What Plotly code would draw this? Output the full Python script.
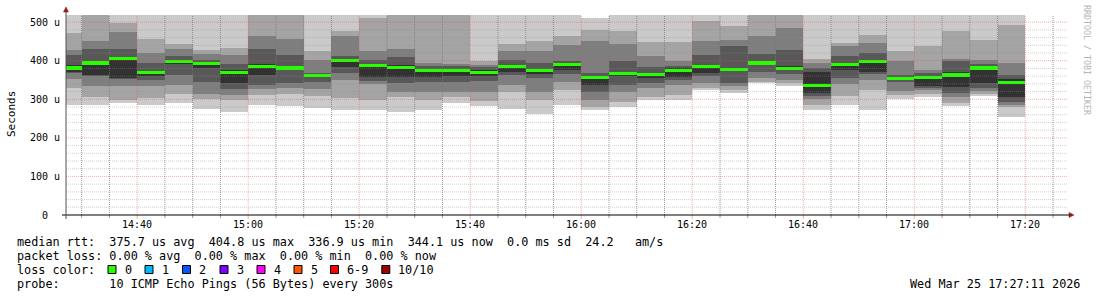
import plotly.graph_objects as go
import pandas as pd

# ---------------- data ----------------
bar_end = [
    "2026-03-25 14:30", "2026-03-25 14:35", "2026-03-25 14:40", "2026-03-25 14:45",
    "2026-03-25 14:50", "2026-03-25 14:55", "2026-03-25 15:00", "2026-03-25 15:05",
    "2026-03-25 15:10", "2026-03-25 15:15", "2026-03-25 15:20", "2026-03-25 15:25",
    "2026-03-25 15:30", "2026-03-25 15:35", "2026-03-25 15:40", "2026-03-25 15:45",
    "2026-03-25 15:50", "2026-03-25 15:55", "2026-03-25 16:00", "2026-03-25 16:05",
    "2026-03-25 16:10", "2026-03-25 16:15", "2026-03-25 16:20", "2026-03-25 16:25",
    "2026-03-25 16:30", "2026-03-25 16:35", "2026-03-25 16:40", "2026-03-25 16:45",
    "2026-03-25 16:50", "2026-03-25 16:55", "2026-03-25 17:00", "2026-03-25 17:05",
    "2026-03-25 17:10", "2026-03-25 17:15", "2026-03-25 17:20",
]

# sorted ping RTTs (microseconds), rank 1 = fastest ... rank 10 = slowest
rank01 = [285, 285, 290, 285, 290, 275, 268, 285, 283, 277, 272, 272, 268, 272, 290, 283, 275, 262,
          285, 271, 279, 297, 297, 324, 317, 342, 335, 271, 285, 271, 300, 307, 283, 309, 255]
rank02 = [329, 305, 298, 303, 315, 300, 298, 311, 313, 308, 304, 297, 305, 298, 305, 295, 320, 298,
          324, 279, 292, 305, 310, 330, 325, 346, 342, 285, 309, 323, 310, 315, 290, 315, 281]
rank03 = [353, 335, 335, 335, 336, 314, 310, 326, 329, 326, 350, 340, 320, 318, 320, 320, 337, 320,
          346, 298, 320, 329, 337, 342, 335, 355, 350, 300, 340, 350, 322, 325, 305, 322, 285]
rank04 = [368, 360, 353, 350, 362, 346, 327, 338, 342, 346, 369, 348, 343, 345, 346, 348, 362, 355,
          366, 320, 337, 343, 349, 360, 343, 370, 366, 309, 355, 365, 345, 330, 317, 329, 292]
rank05 = [372, 363, 355, 361, 392, 381, 343, 363, 378, 357, 384, 359, 359, 359, 360, 360, 372, 365,
          376, 337, 360, 355, 359, 369, 375, 388, 375, 317, 375, 372, 350, 335, 331, 343, 305]
rank06 = [390, 398, 410, 372, 402, 396, 375, 392, 385, 364, 403, 390, 390, 378, 377, 375, 388, 378,
          394, 361, 372, 368, 380, 390, 382, 400, 385, 370, 395, 402, 358, 359, 370, 385, 352]
rank07 = [415, 430, 430, 395, 412, 402, 392, 430, 415, 367, 413, 403, 410, 385, 385, 383, 402, 395,
          400, 368, 398, 383, 385, 415, 438, 418, 428, 380, 411, 420, 363, 368, 398, 392, 363]
rank08 = [428, 452, 475, 421, 430, 418, 415, 463, 456, 402, 463, 426, 430, 395, 392, 389, 424, 424,
          441, 452, 444, 411, 400, 452, 454, 465, 484, 395, 439, 447, 398, 376, 404, 402, 395]
rank09 = [472, 525, 497, 456, 444, 428, 433, 525, 525, 426, 477, 510, 525, 525, 525, 398, 444, 452,
          465, 480, 476, 448, 448, 503, 490, 525, 525, 404, 447, 467, 424, 439, 476, 454, 493]
rank10 = [530, 530, 530, 530, 530, 530, 530, 530, 530, 530, 530, 530, 530, 530, 530, 530, 530, 530,
          530, 511, 530, 530, 530, 530, 530, 530, 530, 530, 530, 530, 530, 530, 530, 530, 530]

median_rtt = [381, 394, 404.8, 369, 399, 392, 369, 385, 381, 361, 400, 387, 383, 375, 374, 369, 385, 374,
              390, 357, 368, 365, 375, 385, 378, 394, 379, 336.9, 389, 397, 355, 356, 363, 381, 344.1]

smoke_colors = ["#cacaca", "#a4a4a4", "#7e7e7e", "#585858", "#323232"]

y_ticks = [0, 100, 200, 300, 400, 500]
y_tick_text = ["0", "100 u", "200 u", "300 u", "400 u", "500 u"]
x_ticks = ["2026-03-25 14:40", "2026-03-25 15:00", "2026-03-25 15:20", "2026-03-25 15:40",
           "2026-03-25 16:00", "2026-03-25 16:20", "2026-03-25 16:40", "2026-03-25 17:00",
           "2026-03-25 17:20"]
x_tick_text = ["14:40", "15:00", "15:20", "15:40", "16:00", "16:20", "16:40", "17:00", "17:20"]

loss_labels = ["0", "1", "2", "3", "4", "5", "6-9", "10/10"]
loss_colors = ["#26ff00", "#00b8ff", "#0059ff", "#7e00ff", "#ff00ff", "#ff5500", "#ff0000", "#a10000"]

legend_lines = [
    "median rtt:  375.7 us avg  404.8 us max  336.9 us min  344.1 us now  0.0 ms sd  24.2   am/s",
    "packet loss: 0.00 % avg  0.00 % max  0.00 % min  0.00 % now",
    "loss color:",
    "probe:       10 ICMP Echo Pings (56 Bytes) every 300s",
]
stamp = "Wed Mar 25 17:27:11 2026"

# ---------------- geometry ----------------
W, H = 1097, 297
PL, PR, PT, PB = 66, 1068, 15, 215
STEP_MS = 300000


def px(x):
    return (x - PL) / (PR - PL)


def py(y):
    return (PB - y) / (PB - PT)


MONO = "DejaVu Sans Mono"


def nb(s):
    return s.replace(" ", "\u00a0")


fig = go.Figure()

lows = [rank01, rank02, rank03, rank04, rank05]
highs = [rank10, rank09, rank08, rank07, rank06]
for lo, hi, col in zip(lows, highs, smoke_colors):
    fig.add_trace(go.Bar(
        x=bar_end, base=lo, y=[h - l for h, l in zip(hi, lo)],
        width=STEP_MS, offset=-STEP_MS,
        marker=dict(color=col, line=dict(width=0)),
        hoverinfo="skip", showlegend=False,
    ))

MED_H = 8
fig.add_trace(go.Bar(
    x=bar_end, base=[m - MED_H / 2 for m in median_rtt], y=[MED_H] * len(median_rtt),
    width=STEP_MS, offset=-STEP_MS,
    marker=dict(color=loss_colors[0], line=dict(width=0)),
    hoverinfo="skip", showlegend=False,
))

shapes = []
MINOR_H = "rgba(143,143,143,0.40)"
MINOR_V = "rgba(120,120,120,0.75)"
MAJOR = "rgba(222,80,80,0.45)"
DASH = "1px,1px"

# horizontal grid
for v in range(20, 520, 20):
    shapes.append(dict(type="line", xref="paper", yref="y", x0=0, x1=1, y0=v, y1=v,
                       line=dict(color=MAJOR if v % 100 == 0 else MINOR_H, width=1, dash=DASH),
                       layer="above"))
# vertical grid (every 5 minutes, majors at labelled ticks)
minor_times = [t.strftime("%Y-%m-%d %H:%M:%S")
               for t in pd.date_range("2026-03-25 14:30", "2026-03-25 17:25", freq="5min")]
major_set = set(pd.to_datetime(x_ticks).strftime("%Y-%m-%d %H:%M:%S"))
for t in minor_times:
    is_major = t in major_set
    col = MAJOR if is_major else MINOR_V
    shapes.append(dict(type="line", xref="x", yref="paper", x0=t, x1=t,
                       y0=py(215), y1=1,
                       line=dict(color=col, width=1, dash=DASH), layer="above"))
    shapes.append(dict(type="line", xref="x", yref="paper", x0=t, x1=t,
                       y0=py(219 if is_major else 218), y1=py(215),
                       line=dict(color=col, width=1), layer="above"))

# axes
AX_RED = "#8c1c1c"
shapes.append(dict(type="line", xref="paper", yref="paper", x0=px(62), x1=px(1070), y0=0, y1=0,
                   line=dict(color="black", width=1), layer="above"))
shapes.append(dict(type="line", xref="paper", yref="paper", x0=0, x1=0, y0=py(219), y1=py(11),
                   line=dict(color="#505050", width=1), layer="above"))
# arrows
shapes.append(dict(type="path", xref="paper", yref="paper",
                   path=f"M {px(1069)} {py(212.5)} L {px(1074)} {py(215)} L {px(1069)} {py(217.5)} Z",
                   fillcolor=AX_RED, line=dict(color=AX_RED, width=0.5), layer="above"))
shapes.append(dict(type="path", xref="paper", yref="paper",
                   path=f"M {px(63.5)} {py(12)} L {px(66)} {py(7)} L {px(68.5)} {py(12)} Z",
                   fillcolor=AX_RED, line=dict(color=AX_RED, width=0.5), layer="above"))

annotations = []
for v, t in zip(y_ticks, y_tick_text):
    annotations.append(dict(x=px(44.5), xref="paper", y=v, yref="y", text=nb(t), showarrow=False,
                            xanchor="center", yanchor="middle", borderpad=0,
                            font=dict(family=MONO, size=10, color="black")))
for v, t in zip(x_ticks, x_tick_text):
    annotations.append(dict(x=v, xref="x", y=py(224.5), yref="paper", text=t, showarrow=False,
                            xanchor="center", yanchor="middle", borderpad=0,
                            font=dict(family=MONO, size=10, color="black")))

annotations.append(dict(x=px(11), xref="paper", y=py(114), yref="paper", text="Seconds",
                        textangle=-90, showarrow=False, xanchor="center", yanchor="middle",
                        font=dict(family=MONO, size=11, color="black")))
annotations.append(dict(x=px(1087), xref="paper", y=py(60), yref="paper", text=nb("RRDTOOL / TOBI OETIKER"),
                        textangle=90, showarrow=False, xanchor="center", yanchor="middle",
                        font=dict(family=MONO, size=8.3, color="#b4b4b4")))

LEG_FS = 11.8
line_y = [241.5, 255.5, 269.5, 283.5]
for txt, yy in zip(legend_lines, line_y):
    annotations.append(dict(x=px(16), xref="paper", y=py(yy), yref="paper", text=nb(txt),
                            showarrow=False, xanchor="left", yanchor="middle", borderpad=0,
                            font=dict(family=MONO, size=LEG_FS, color="black")))

box_left = [108, 145, 182.5, 220, 257, 294, 330.5, 381.8]
for bx, lab, col in zip(box_left, loss_labels, loss_colors):
    shapes.append(dict(type="rect", xref="paper", yref="paper",
                       x0=px(bx), x1=px(bx + 8), y0=py(273.5), y1=py(265.5),
                       fillcolor=col, line=dict(color="black", width=1), layer="above"))
    annotations.append(dict(x=px(bx + 15.5), xref="paper", y=py(line_y[2]), yref="paper", text=lab,
                            showarrow=False, xanchor="left", yanchor="middle", borderpad=0,
                            font=dict(family=MONO, size=LEG_FS, color="black")))

annotations.append(dict(x=px(1081), xref="paper", y=py(283.5), yref="paper", text=nb(stamp),
                        showarrow=False, xanchor="right", yanchor="middle", borderpad=0,
                        font=dict(family=MONO, size=LEG_FS, color="black")))

fig.update_layout(
    width=W, height=H,
    margin=dict(l=PL, r=W - PR, t=PT, b=H - PB, pad=0),
    paper_bgcolor="white", plot_bgcolor="white",
    barmode="overlay", bargap=0,
    showlegend=False,
    xaxis=dict(type="date", range=["2026-03-25 14:27:11", "2026-03-25 17:27:41"],
               showgrid=False, zeroline=False, showline=False, showticklabels=False, ticks=""),
    yaxis=dict(range=[0, 518.5], showgrid=False, zeroline=False, showline=False,
               showticklabels=False, ticks=""),
    shapes=shapes, annotations=annotations,
)

fig.write_html("out.html")
